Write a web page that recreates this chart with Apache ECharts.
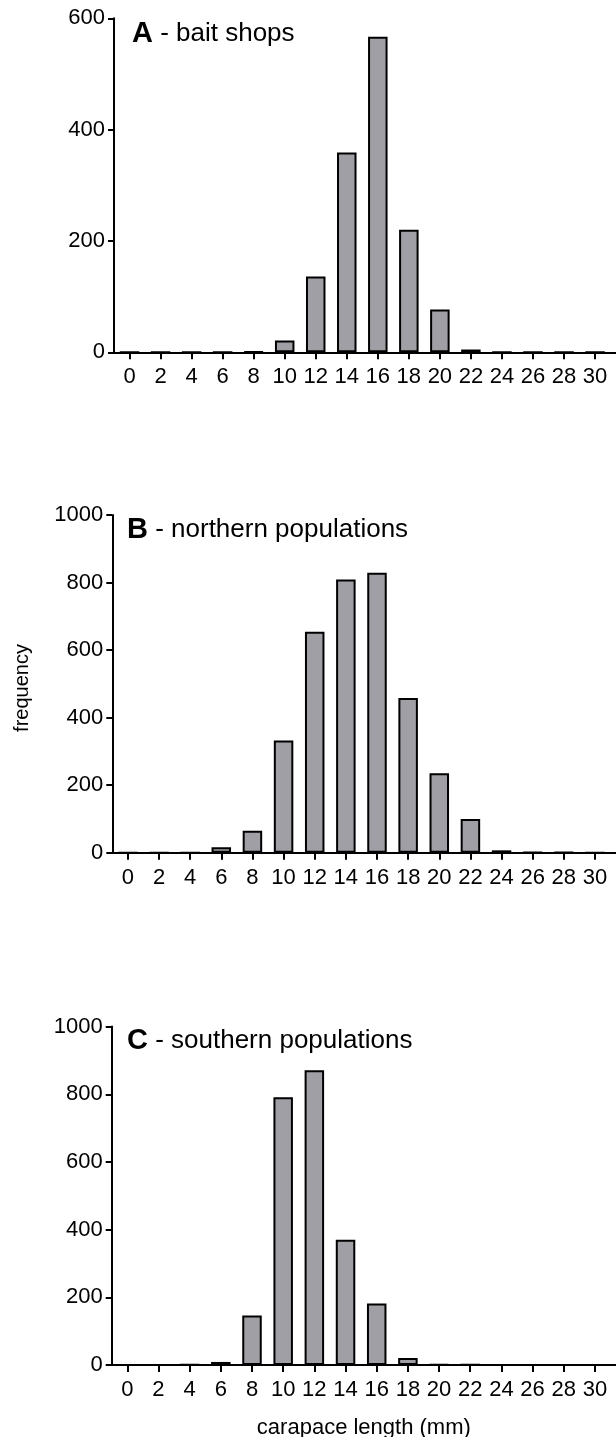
<!DOCTYPE html>
<html>
<head>
<meta charset="utf-8">
<script src="https://cdn.jsdelivr.net/npm/echarts@6/dist/echarts.min.js"></script>
<style>
  html, body { margin: 0; padding: 0; background: #ffffff; }
  #chart { width: 616px; height: 1437px; }
</style>
</head>
<body>
<div id="chart"></div>
<script>
// Carapace length classes (mm) and crayfish counts per class
const lengths = [0, 2, 4, 6, 8, 10, 12, 14, 16, 18, 20, 22, 24, 26, 28, 30];
const baitShops = [0, 0, 0, 0, 1, 21, 136, 359, 567, 220, 77, 5, 0, 0, 0, 0];
const northern  = [0, 0, 0, 16, 65, 332, 654, 809, 829, 458, 235, 100, 7, 1, 1, 0];
const southern  = [0, 0, 1, 9, 146, 791, 871, 370, 182, 21, 2, 1, 0, 0, 0, 0];

const panelLetters = ['A', 'B', 'C'];
const panelNames = [' - bait shops', ' - northern populations', ' - southern populations'];
const yMaxes = [600, 1000, 1000];
const seriesValues = [baitShops, northern, southern];

// Panel frames in page pixels
const frames = [
  { left: 114,   top: 18.3,   height: 334,   titleLeft: 132, titleTop: 18.5 },
  { left: 112.3, top: 515,    height: 337.7, titleLeft: 127, titleTop: 514.5 },
  { left: 111.7, top: 1026.6, height: 338.4, titleLeft: 127, titleTop: 1026 }
];

const FONT = 'Liberation Sans, Arial, Helvetica, sans-serif';
const BLACK = '#000000';
const BAR_FILL = '#a09fa5';
const H = 1437;

const grids = [], xAxes = [], yAxes = [], series = [], titles = [];

frames.forEach((f, i) => {
  grids.push({
    left: f.left, right: 0, top: f.top,
    bottom: H - f.top - f.height,
    containLabel: false,
    outerBoundsMode: 'none'
  });
  xAxes.push({
    type: 'value', gridIndex: i, min: -1, max: 31.35,
    axisLine: { show: true, onZero: false, lineStyle: { color: BLACK, width: 2 } },
    axisTick: { show: true, length: 7, lineStyle: { color: BLACK, width: 2 }, customValues: lengths },
    axisLabel: { color: BLACK, fontSize: 22, fontFamily: FONT, margin: 14, customValues: lengths },
    splitLine: { show: false },
    name: i === 2 ? 'carapace length (mm)' : '',
    nameLocation: 'middle', nameGap: 52,
    nameTextStyle: { color: BLACK, fontSize: 22, fontFamily: FONT }
  });
  yAxes.push({
    type: 'value', gridIndex: i, min: 0, max: yMaxes[i], interval: 200,
    axisLine: { show: true, onZero: false, lineStyle: { color: BLACK, width: 2 } },
    axisTick: { show: true, length: 6, lineStyle: { color: BLACK, width: 2 } },
    axisLabel: { color: BLACK, fontSize: 22, fontFamily: FONT, margin: 9,
                 formatter: v => String(v) },
    splitLine: { show: false }
  });
  series.push({
    type: 'bar', xAxisIndex: i, yAxisIndex: i,
    barWidth: 19.5,
    data: lengths.map((x, k) => [x, seriesValues[i][k]]),
    itemStyle: { color: BAR_FILL, borderColor: BLACK, borderWidth: 2 },
    emphasis: { disabled: true },
    animation: false
  });
  titles.push({
    text: '{l|' + panelLetters[i] + '}{n|' + panelNames[i] + '}',
    left: f.titleLeft, top: f.titleTop, padding: 0,
    textStyle: {
      fontWeight: 'normal',
      rich: {
        l: { fontSize: 29, fontWeight: 'bold', fontFamily: FONT, color: BLACK, lineHeight: 30 },
        n: { fontSize: 26, fontWeight: 'normal', fontFamily: FONT, color: BLACK, lineHeight: 30 }
      }
    }
  });
});

const chart = echarts.init(document.getElementById('chart'), null, { renderer: 'canvas' });
chart.setOption({
  backgroundColor: '#ffffff',
  animation: false,
  title: titles,
  grid: grids,
  xAxis: xAxes,
  yAxis: yAxes,
  series: series,
  graphic: [{
    type: 'text',
    x: 22, y: 688,
    rotation: Math.PI / 2,
    style: {
      text: 'frequency',
      fontSize: 20, fontFamily: FONT, fill: BLACK,
      align: 'center', verticalAlign: 'middle'
    }
  }]
});
</script>
</body>
</html>
